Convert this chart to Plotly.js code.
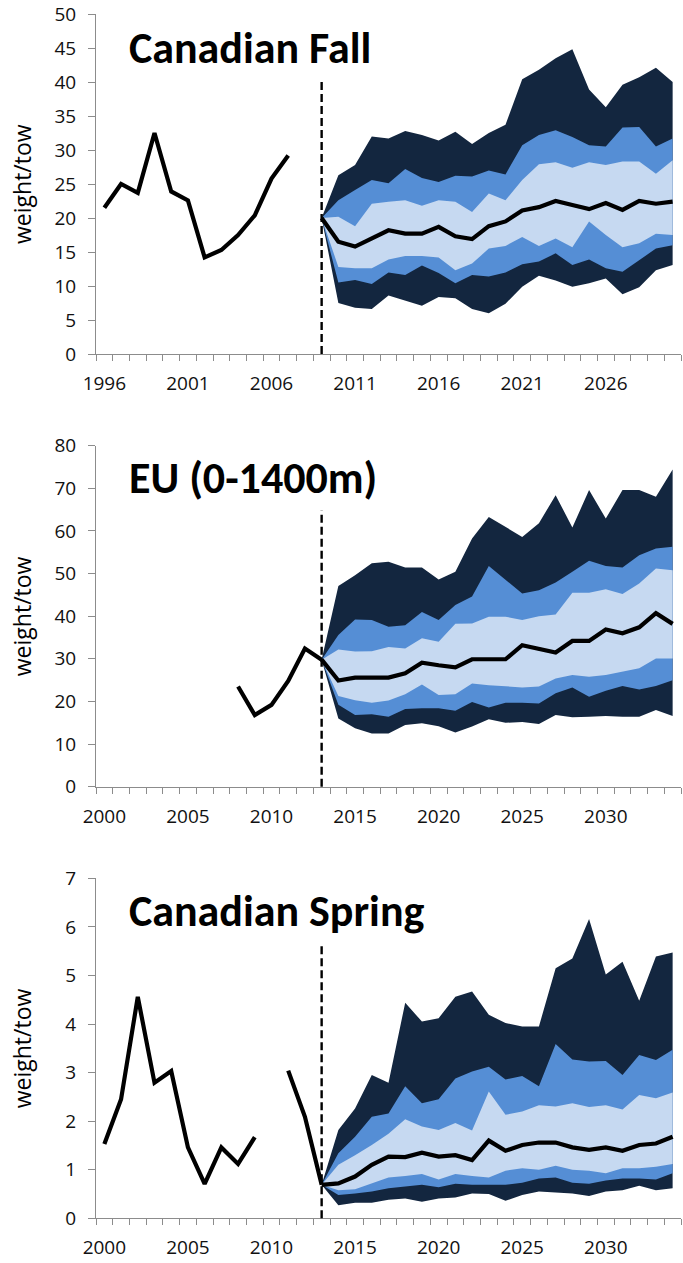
<!DOCTYPE html>
<html>
<head>
<meta charset="utf-8">
<script src="https://cdn.plot.ly/plotly-3.0.1.min.js"></script>
<style>
  html, body { margin: 0; padding: 0; background: #ffffff; }
  #chart { width: 683px; height: 1263px; }
</style>
</head>
<body>
<div id="chart"></div>
<script>
// ---- Canadian Fall survey ----
const fallObsYears = [1996, 1997, 1998, 1999, 2000, 2001, 2002, 2003, 2004, 2005, 2006, 2007];
const fallObs      = [21.5, 25.0, 23.7, 32.5, 23.9, 22.6, 14.2, 15.3, 17.5, 20.4, 25.8, 29.2];
const fallProjYears = [2009, 2010, 2011, 2012, 2013, 2014, 2015, 2016, 2017, 2018, 2019,
                       2020, 2021, 2022, 2023, 2024, 2025, 2026, 2027, 2028, 2029, 2030];
const fallMed  = [20, 16.5, 15.8, 17.0, 18.2, 17.7, 17.7, 18.7, 17.3, 16.9, 18.8, 19.5, 21.1, 21.6, 22.5, 21.9, 21.3, 22.2, 21.2, 22.5, 22.1, 22.4];
const fallHi95 = [20, 26.3, 27.8, 32.0, 31.7, 32.8, 32.2, 31.4, 32.7, 30.9, 32.5, 33.7, 40.4, 41.8, 43.5, 44.8, 38.9, 36.3, 39.6, 40.7, 42.1, 40.0];
const fallHi80 = [20, 22.6, 24.1, 25.6, 25.1, 27.2, 25.9, 25.3, 26.2, 26.1, 27.0, 26.4, 30.7, 32.2, 32.9, 31.9, 30.7, 30.5, 33.3, 33.4, 30.5, 31.7];
const fallHi50 = [20, 20.2, 18.8, 22.1, 22.4, 22.6, 21.8, 22.6, 22.4, 20.9, 23.6, 22.6, 25.6, 27.9, 28.2, 27.4, 28.2, 27.8, 28.3, 28.3, 26.5, 28.5];
const fallLo50 = [20, 12.8, 12.6, 12.6, 13.9, 14.4, 14.4, 14.2, 12.3, 13.3, 15.5, 15.9, 17.2, 15.9, 17.0, 15.7, 19.5, 17.5, 15.7, 16.3, 17.7, 17.5];
const fallLo80 = [20, 10.5, 10.9, 10.3, 12.0, 11.6, 13.0, 11.9, 10.4, 11.6, 11.4, 12.0, 13.2, 13.6, 14.8, 13.1, 13.9, 12.6, 12.1, 13.8, 15.5, 16.0];
const fallLo95 = [20, 7.5, 6.8, 6.6, 8.6, 7.8, 7.1, 8.4, 8.2, 6.6, 6.0, 7.4, 9.9, 11.5, 10.8, 9.9, 10.4, 11.1, 8.8, 9.8, 12.3, 13.1];
const fallTicks = [1996, 2001, 2006, 2011, 2016, 2021, 2026];

// ---- EU survey (0-1400m) ----
const euObsYears = [2008, 2009, 2010, 2011, 2012, 2013];
const euObs      = [23.5, 16.8, 19.2, 24.8, 32.4, 29.8];
const projYears = [2013, 2014, 2015, 2016, 2017, 2018, 2019, 2020, 2021, 2022, 2023,
                   2024, 2025, 2026, 2027, 2028, 2029, 2030, 2031, 2032, 2033, 2034];
const euMed  = [29.8, 24.9, 25.6, 25.6, 25.6, 26.6, 29.1, 28.5, 28.0, 29.9, 29.9, 29.9, 33.2, 32.4, 31.5, 34.2, 34.2, 36.9, 36.0, 37.4, 40.7, 38.2];
const euHi95 = [29.8, 47.1, 49.6, 52.4, 52.8, 51.4, 51.4, 48.6, 50.4, 58.2, 63.3, 61.0, 58.6, 61.8, 68.4, 60.8, 69.6, 62.9, 69.6, 69.6, 68.0, 74.4];
const euHi80 = [29.8, 35.6, 39.2, 39.1, 37.5, 37.9, 41.0, 39.1, 42.6, 44.6, 51.8, 48.5, 45.3, 46.1, 47.9, 50.4, 53.0, 51.8, 51.4, 54.3, 55.9, 56.3];
const euHi50 = [29.8, 32.2, 31.7, 31.8, 32.8, 32.4, 34.8, 34.0, 38.2, 38.3, 39.9, 39.9, 39.1, 40.0, 40.4, 45.5, 45.5, 46.3, 45.2, 47.7, 51.2, 50.8];
const euLo50 = [29.8, 21.3, 20.3, 19.7, 20.2, 21.7, 24.0, 21.5, 21.7, 24.2, 23.8, 23.5, 23.3, 23.5, 25.4, 26.2, 25.8, 26.2, 27.0, 27.8, 30.1, 30.1];
const euLo80 = [29.8, 19.2, 16.8, 17.0, 16.4, 18.2, 18.4, 18.4, 17.8, 19.9, 18.6, 19.7, 19.7, 19.5, 21.9, 23.3, 21.1, 22.5, 23.6, 22.8, 23.6, 25.0];
const euLo95 = [29.8, 16.0, 13.7, 12.5, 12.5, 14.5, 14.9, 14.2, 12.7, 14.1, 15.8, 15.0, 15.2, 14.7, 16.8, 16.3, 16.4, 16.6, 16.4, 16.4, 18.0, 16.6];

// ---- Canadian Spring survey (2010 not surveyed) ----
const sprObsYears = [2000, 2001, 2002, 2003, 2004, 2005, 2006, 2007, 2008, 2009, 2010, 2011, 2012, 2013];
const sprObs      = [1.53, 2.45, 4.56, 2.79, 3.03, 1.46, 0.71, 1.46, 1.12, 1.67, null, 3.04, 2.09, 0.69];
const sprMed  = [0.69, 0.72, 0.86, 1.10, 1.27, 1.26, 1.35, 1.27, 1.30, 1.20, 1.60, 1.39, 1.51, 1.56, 1.56, 1.46, 1.41, 1.46, 1.39, 1.51, 1.54, 1.68];
const sprHi95 = [0.69, 1.82, 2.26, 2.95, 2.79, 4.44, 4.05, 4.12, 4.56, 4.67, 4.19, 4.02, 3.95, 3.95, 5.15, 5.35, 6.16, 5.02, 5.28, 4.48, 5.39, 5.47];
const sprHi80 = [0.69, 1.34, 1.68, 2.09, 2.16, 2.72, 2.37, 2.45, 2.88, 3.02, 3.12, 2.86, 2.93, 2.72, 3.59, 3.27, 3.23, 3.24, 2.95, 3.36, 3.26, 3.47];
const sprHi50 = [0.69, 1.10, 1.30, 1.51, 1.74, 2.04, 1.89, 1.82, 1.96, 1.81, 2.61, 2.13, 2.20, 2.33, 2.30, 2.37, 2.29, 2.33, 2.24, 2.54, 2.47, 2.59];
const sprLo50 = [0.69, 0.58, 0.60, 0.72, 0.84, 0.87, 0.91, 0.80, 0.91, 0.87, 0.84, 0.98, 1.03, 1.00, 1.08, 1.00, 0.98, 0.93, 1.03, 1.03, 1.06, 1.12];
const sprLo80 = [0.69, 0.48, 0.51, 0.55, 0.62, 0.65, 0.69, 0.64, 0.71, 0.69, 0.69, 0.69, 0.73, 0.82, 0.84, 0.73, 0.71, 0.78, 0.82, 0.82, 0.80, 0.93];
const sprLo95 = [0.69, 0.27, 0.32, 0.32, 0.38, 0.41, 0.34, 0.41, 0.43, 0.51, 0.50, 0.36, 0.48, 0.55, 0.53, 0.51, 0.46, 0.55, 0.58, 0.67, 0.58, 0.62];
const laterTicks = [2000, 2005, 2010, 2015, 2020, 2025, 2030];

const panelTitles = ['Canadian Fall', 'EU (0-1400m)', 'Canadian Spring'];
const yLabel = 'weight/tow';

// ---- styling ----
const C_OUTER = '#13263F';
const C_MID   = '#558ED5';
const C_INNER = '#C6D9F1';
const AXIS_GREY = '#8C8C8C';
const TICK_FONT = { family: 'Open Sans, Noto Sans, sans-serif', size: 19, color: '#111111' };

const traces = [];

function band(xa, ya, yrs, lo, hi, color) {
  traces.push({ x: yrs, y: lo, xaxis: xa, yaxis: ya, mode: 'lines',
                line: { width: 0, color: color }, hoverinfo: 'skip', showlegend: false });
  traces.push({ x: yrs, y: hi, xaxis: xa, yaxis: ya, mode: 'lines', fill: 'tonexty',
                fillcolor: color, line: { width: 0, color: color }, hoverinfo: 'skip', showlegend: false });
}

function line(xa, ya, yrs, vals) {
  traces.push({ x: yrs, y: vals, xaxis: xa, yaxis: ya, mode: 'lines', connectgaps: false,
                line: { color: '#000000', width: 4.2 }, showlegend: false });
}

function panel(xa, ya, obsYrs, obs, pYrs, lo95, lo80, lo50, med, hi50, hi80, hi95) {
  band(xa, ya, pYrs, lo95, hi95, C_OUTER);
  band(xa, ya, pYrs, lo80, hi80, C_MID);
  band(xa, ya, pYrs, lo50, hi50, C_INNER);
  line(xa, ya, obsYrs, obs);
  line(xa, ya, pYrs, med);
}

panel('x', 'y', fallObsYears, fallObs, fallProjYears,
      fallLo95, fallLo80, fallLo50, fallMed, fallHi50, fallHi80, fallHi95);
panel('x2', 'y2', euObsYears, euObs, projYears,
      euLo95, euLo80, euLo50, euMed, euHi50, euHi80, euHi95);
panel('x3', 'y3', sprObsYears, sprObs, projYears,
      sprLo95, sprLo80, sprLo50, sprMed, sprHi50, sprHi80, sprHi95);

function xAxis(anchor, first, last, tickvals) {
  return {
    anchor: anchor, domain: [0, 1],
    range: [first - 0.5, last + 0.5],
    tickmode: 'array', tickvals: tickvals, ticktext: tickvals.map(String),
    ticks: '', ticklabelstandoff: 12,
    minor: { ticks: 'outside', tick0: first - 0.5, dtick: 1, ticklen: 6, tickcolor: AXIS_GREY, tickwidth: 1 },
    showline: true, linecolor: AXIS_GREY, linewidth: 1,
    showgrid: false, zeroline: false, tickfont: TICK_FONT, fixedrange: true
  };
}

function yAxis(anchor, domain, max, step) {
  return {
    anchor: anchor, domain: domain, range: [0, max],
    tickmode: 'linear', tick0: 0, dtick: step,
    ticks: 'outside', ticklen: 7, tickcolor: AXIS_GREY, tickwidth: 1,
    ticklabelstandoff: 8,
    showline: true, linecolor: AXIS_GREY, linewidth: 1,
    showgrid: false, zeroline: false, tickfont: TICK_FONT, fixedrange: true
  };
}

const H = 1263;
const dom = (top, bottom) => [1 - bottom / H, 1 - top / H];
const d1 = dom(14, 354), d2 = dom(445.7, 786.7), d3 = dom(878.3, 1218.3);

function divider(xref, yref, yr) {
  return { type: 'line', xref: xref, yref: yref + ' domain', x0: yr, x1: yr, y0: 0, y1: 0.81,
           line: { color: '#000000', width: 2.4, dash: '8px,4px' } };
}

const TITLE_FONT = { family: 'Liberation Sans Narrow, Carlito, Lato, sans-serif', size: 44, color: '#000000', weight: 700 };
function titleNote(i, yref, yfrac) {
  return { text: '<b>' + panelTitles[i] + '</b>', xref: 'paper', yref: yref + ' domain',
           x: 31 / 585, y: yfrac, xanchor: 'left', yanchor: 'middle', showarrow: false, font: TITLE_FONT };
}
function yTitle(yref) {
  return { text: yLabel, xref: 'paper', yref: yref + ' domain', x: -74 / 585, y: 0.5,
           xanchor: 'center', yanchor: 'middle', textangle: -90, showarrow: false,
           font: { family: 'Open Sans, Noto Sans, sans-serif', size: 23, color: '#000000' } };
}

const layout = {
  width: 683, height: H,
  margin: { l: 96, r: 2, t: 0, b: 0 },
  paper_bgcolor: '#ffffff', plot_bgcolor: '#ffffff',
  showlegend: false,
  xaxis:  xAxis('y', 1996, 2030, fallTicks),
  xaxis2: xAxis('y2', 2000, 2034, laterTicks),
  xaxis3: xAxis('y3', 2000, 2034, laterTicks),
  yaxis:  yAxis('x', d1, 50, 5),
  yaxis2: yAxis('x2', d2, 80, 10),
  yaxis3: yAxis('x3', d3, 7, 1),
  shapes: [
    divider('x', 'y', fallProjYears[0]),
    divider('x2', 'y2', projYears[0]),
    divider('x3', 'y3', projYears[0])
  ],
  annotations: [
    titleNote(0, 'y', 0.9), titleNote(1, 'y2', 0.905), titleNote(2, 'y3', 0.905),
    yTitle('y'), yTitle('y2'), yTitle('y3')
  ]
};

Plotly.newPlot('chart', traces, layout, { staticPlot: true, displayModeBar: false });
</script>
</body>
</html>
